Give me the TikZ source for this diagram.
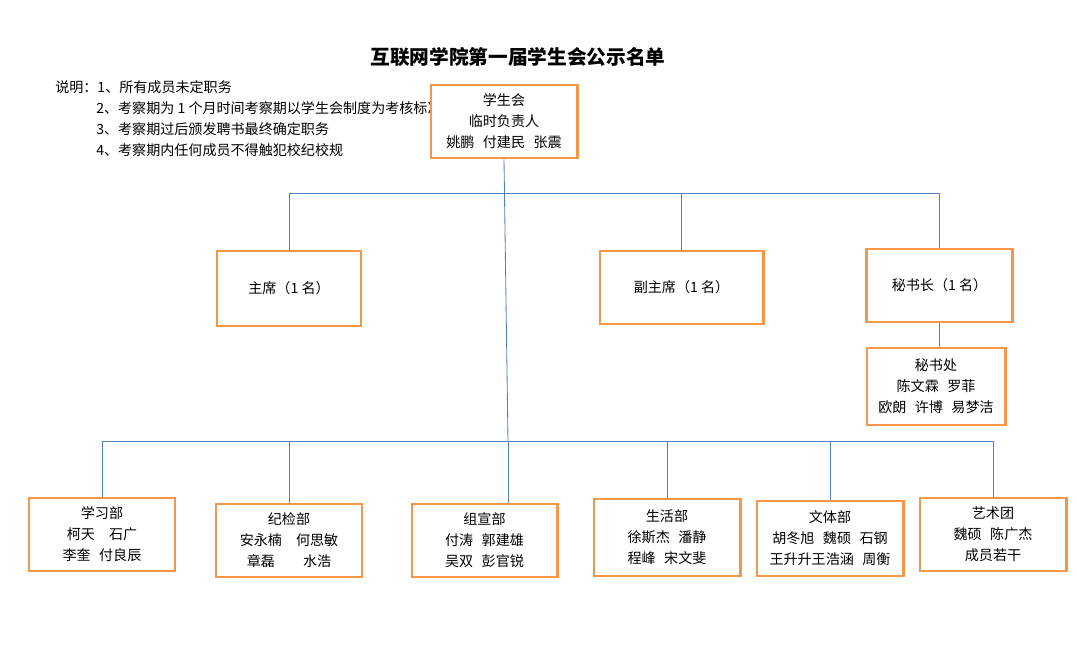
\documentclass[tikz,border=0pt]{standalone}
\usepackage{fontspec}
\setmainfont{Noto Sans CJK SC}
\usetikzlibrary{positioning}
\definecolor{boxorange}{HTML}{F79646}
\definecolor{lineblue}{HTML}{4F81BD}

\begin{document}
\begin{tikzpicture}[x=0.025cm, y=-0.025cm, font=\fontsize{10}{15}\selectfont,
    dept/.style={draw=boxorange, line width=2.1pt, fill=white, minimum width=3.65cm,
        minimum height=1.825cm, align=center, inner sep=2pt},
    note/.style={anchor=west, inner sep=0pt},
    link/.style={draw=lineblue, line width=0.6pt}]
    \useasboundingbox (0,0) rectangle (1079,655);
    \newcommand{\gap}{\hspace{0.6em}}

    \node[font=\bfseries\fontsize{14}{16}\selectfont] (title) at (518,57) {互联网学院第一届学生会公示名单};
    \node[note] (n1) at (55,87) {说明：1、所有成员未定职务};
    \node[note] (n2) at (96,108) {2、考察期为 1 个月时间考察期以学生会制度为考核标准};
    \node[note] (n3) at (96,129) {3、考察期过后颁发聘书最终确定职务};
    \node[note] (n4) at (96,150) {4、考察期内任何成员不得触犯校纪校规};

    \node[dept] (xsh) at (504,121.5) {学生会\\临时负责人\\姚鹏\gap 付建民\gap 张震};
    \node[dept, minimum width=3.6cm, minimum height=1.875cm] (zx) at (289,288.5) {主席（1 名）};
    \node[dept, minimum width=4.075cm] (fzx) at (681.5,287.5) {副主席（1 名）};
    \node[dept] (msz) at (939.5,285.5) {秘书长（1 名）};
    \node[dept, minimum width=3.45cm, minimum height=1.925cm] (msc) at (936,386.5) {秘书处\\陈文霖\gap 罗菲\\欧朗\gap 许博\gap 易梦洁};

    \node[dept] (xxb) at (102,534.5) {学习部\\柯天\quad 石广\\李奎\gap 付良辰};
    \node[dept] (jjb) at (289,540.5) {纪检部\\安永楠\quad 何思敏\\章磊\qquad 水浩};
    \node[dept, minimum width=3.625cm] (zxb) at (484.5,540.5) {组宣部\\付涛\gap 郭建雄\\吴双\gap 彭官锐};
    \node[dept, minimum height=1.925cm] (shb) at (667,537.5) {生活部\\徐斯杰\gap 潘静\\程峰\gap 宋文斐};
    \node[dept, minimum height=1.875cm] (wtb) at (830,538.5) {文体部\\胡冬旭\gap 魏硕\gap 石钢\\王升升王浩涵\gap 周衡};
    \node[dept] (ytt) at (993,534.5) {艺术团\\魏硕\gap 陈广杰\\成员若干};

    \coordinate (busT) at (504,193);
    \coordinate (busB) at (508,441);
    \coordinate (zxbTop) at ([xshift=0.6cm]zxb.north);

    % upper tree
    \draw[link] (xsh.south) -- (busB);
    \draw[link] (zx.north) |- (msz.north |- busT) -- (msz.north);
    \draw[link] (fzx.north) -- (fzx.north |- busT);
    \draw[link] (msz.south) -- (msz.south |- msc.north);
    % lower tree
    \draw[link] (xxb.north) |- (ytt.north |- busB) -- (ytt.north);
    \foreach \n in {jjb,shb,wtb}
        \draw[link] (\n.north) -- (\n.north |- busB);
    \draw[link] (zxbTop) -- (zxbTop |- busB);
\end{tikzpicture}
\end{document}
